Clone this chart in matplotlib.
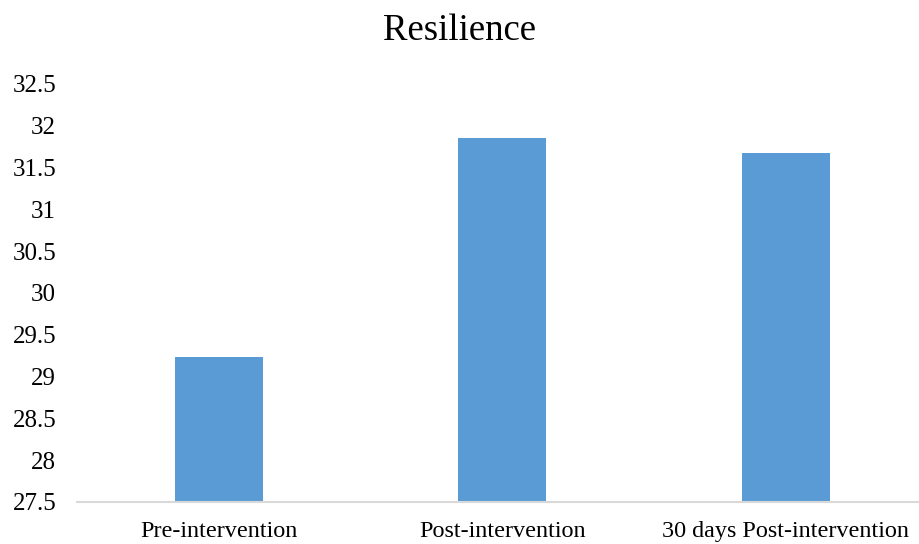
import matplotlib
matplotlib.use("Agg")
import matplotlib.pyplot as plt
import numpy as np

categories = ["Pre-intervention", "Post-intervention", "30 days Post-intervention"]
values = [29.23, 31.85, 31.67]
yticks = [27.5, 28, 28.5, 29, 29.5, 30, 30.5, 31, 31.5, 32, 32.5]

plt.rcParams['font.family'] = ['Liberation Serif', 'DejaVu Serif']

fig = plt.figure(figsize=(9.19, 5.44), dpi=100)
ax = fig.add_axes([77/919, 1-502/544, (919-77)/919, (502-84)/544])

x = np.arange(len(categories))
ax.bar(x, values, width=0.31, color="#5B9BD5", zorder=2)

ax.set_ylim(27.5, 32.5)
ax.set_xlim(-0.5, 2.47)
ax.set_yticks(yticks)
ax.set_yticklabels([f"{v:g}" for v in yticks])
ax.set_xticks(x)
ax.set_xticklabels(categories)
ax.tick_params(axis='y', length=0, pad=15, labelsize=18)
ax.tick_params(axis='x', length=0, pad=14, labelsize=17.4)

for s in ["top", "right", "left"]:
    ax.spines[s].set_visible(False)
ax.spines["bottom"].set_color("#D9D9D9")
ax.spines["bottom"].set_linewidth(1.5)

fig.suptitle("Resilience", fontsize=26.5, y=0.975)

plt.savefig("out.png", dpi=100)
